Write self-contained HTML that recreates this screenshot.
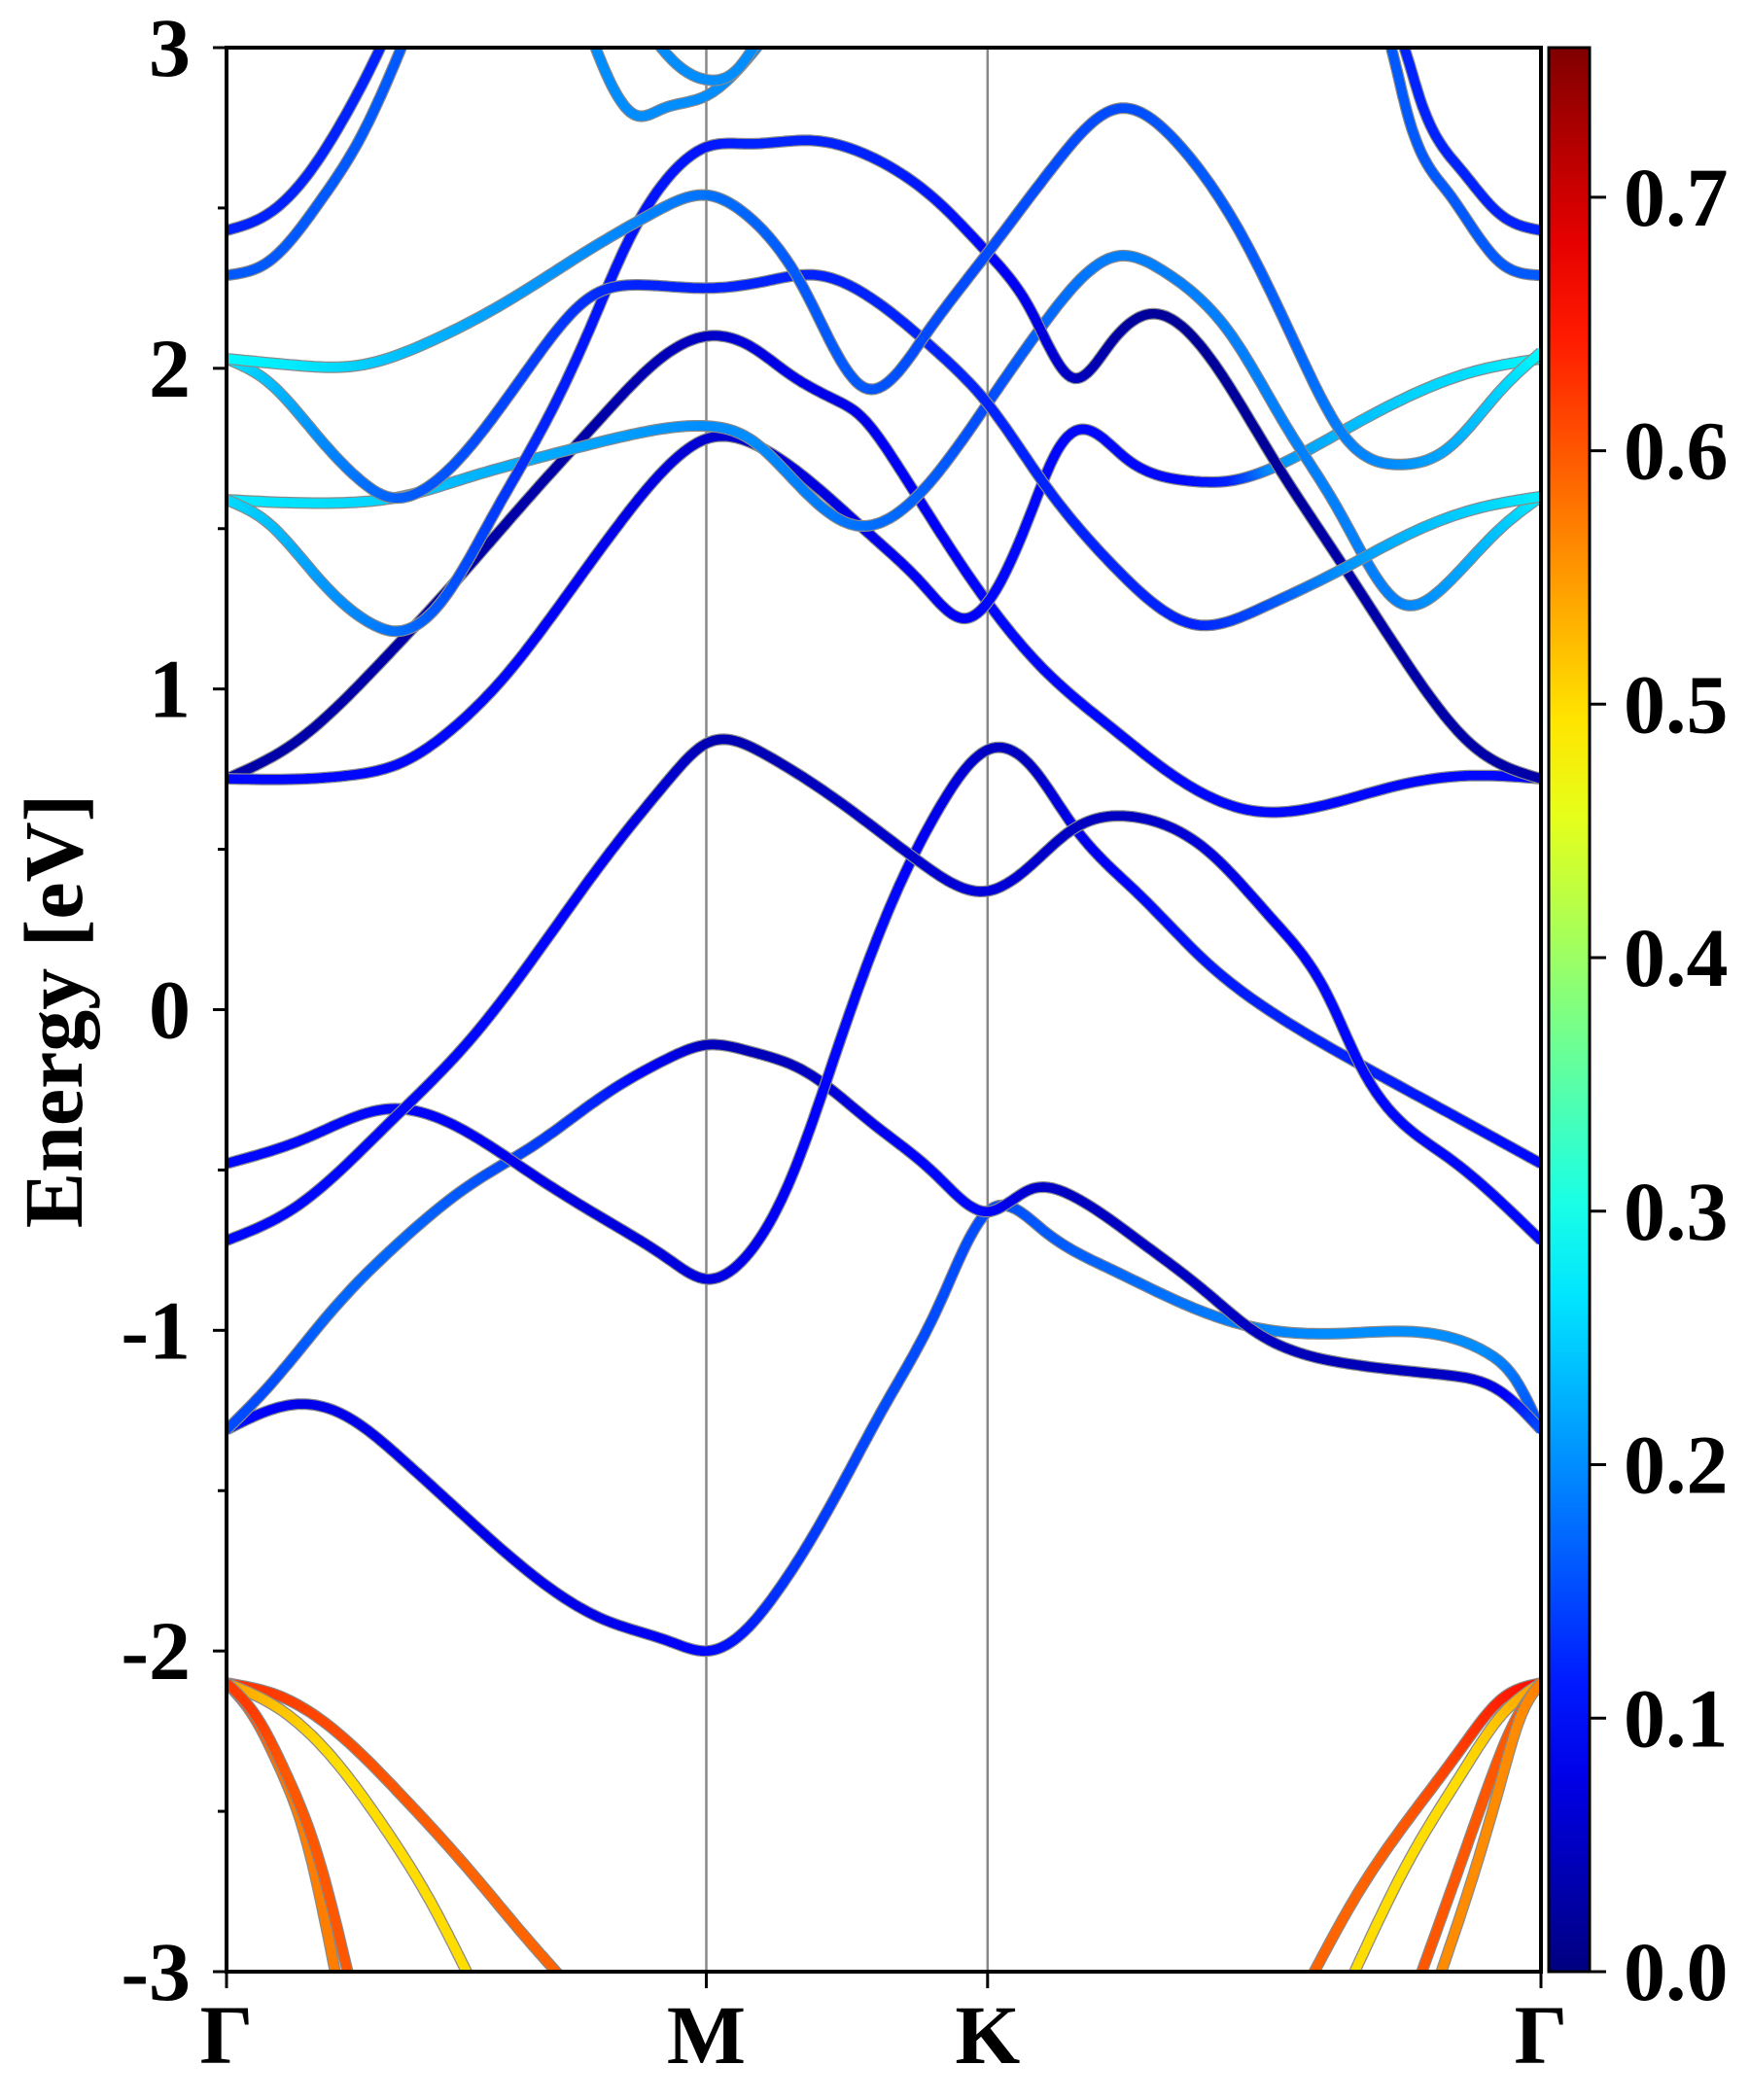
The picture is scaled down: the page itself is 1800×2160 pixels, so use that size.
<!DOCTYPE html>
<html><head><meta charset="utf-8">
<style>
html,body{margin:0;padding:0;background:#fff;}
svg{display:block;}
text{font-family:"Liberation Serif","DejaVu Serif",serif;font-weight:bold;fill:#000;}
</style></head>
<body>
<svg id="chart" width="1800" height="2160" viewBox="0 0 1800 2160" xmlns="http://www.w3.org/2000/svg">
<defs>
<clipPath id="plotclip"><rect x="233" y="49" width="1352" height="1979"/></clipPath>
<linearGradient id="jetgrad" x1="0" y1="1" x2="0" y2="0"></linearGradient>
</defs>
<g id="vlines"></g>
<g id="bands" clip-path="url(#plotclip)"></g>
<rect x="233" y="49" width="1352" height="1979" fill="none" stroke="#000" stroke-width="4"/>
<g id="yaxis"></g>
<g id="xaxis"></g>
<text x="0" y="0" font-size="86" text-anchor="middle" transform="translate(84,1040) rotate(-90)">Energy [eV]</text>
<rect x="1593" y="49" width="42" height="1979" fill="url(#jetgrad)" stroke="#000" stroke-width="3"/>
<g id="cbaxis"></g>
</svg>
<script>
const NS="http://www.w3.org/2000/svg";
// axis ranges
const eMin=-3, eMax=3, wMax=0.759;
const yTicks=[-3,-2,-1,0,1,2,3];
const yTickLabels=["-3","-2","-1","0","1","2","3"];
const kPointPos=[0,0.365,0.579,1];
const kPointLabels=["Γ","M","K","Γ"];
const cbTicks=[0,0.1,0.2,0.3,0.4,0.5,0.6,0.7];
const cbTickLabels=["0.0","0.1","0.2","0.3","0.4","0.5","0.6","0.7"];

// valence bands
const kV1=[0,.04,.08,.133,.184,.225,.255], eV1=[-2.10,-2.14,-2.24,-2.45,-2.68,-2.88,-3.02], wV1=[.63,.62,.61,.6,.59,.59,.59];
const kV2=[0,.04,.08,.12,.155,.185], eV2=[-2.10,-2.18,-2.33,-2.55,-2.78,-3.02], wV2=[.55,.52,.5,.5,.5,.5];
const kV3=[0,.02,.04,.06,.085], eV3=[-2.10,-2.2,-2.36,-2.58,-3.05], wV3=[.6,.6,.58,.57,.57];
const kV4=[0,.022,.045,.068,.095], eV4=[-2.1,-2.2,-2.38,-2.62,-3.05], wV4=[.62,.62,.6,.6,.6];
const kV5=[1,.97,.94,.90,.86,.825], eV5=[-2.10,-2.15,-2.3,-2.52,-2.76,-3.02], wV5=[.66,.64,.62,.6,.59,.59];
const kV6=[1,.97,.94,.90,.856], eV6=[-2.1,-2.2,-2.38,-2.65,-3.02], wV6=[.55,.52,.5,.5,.5];
const kV7=[1,.98,.96,.94,.905], eV7=[-2.1,-2.22,-2.42,-2.65,-3.05], wV7=[.6,.6,.6,.6,.6];
const kV8=[1,.985,.97,.95,.92], eV8=[-2.1,-2.2,-2.4,-2.68,-3.05], wV8=[.57,.56,.56,.56,.56];
// lower conduction bands
const kA=[0,.020,.056,.092,.133,.184,.235,.286,.337,.365,.388,.418,.459,.500,.541,.579,.622,.673,.724,.781,.847,.929,.959,.980,1];
const eA=[-1.31,-1.27,-1.23,-1.27,-1.40,-1.59,-1.77,-1.90,-1.97,-2.0,-1.96,-1.82,-1.55,-1.24,-0.93,-0.63,-0.69,-0.81,-0.91,-0.99,-1.01,-1.02,-1.07,-1.15,-1.31];
const wA=[.12,.1,.08,.08,.08,.08,.08,.08,.09,.1,.11,.13,.14,.15,.15,.15,.16,.17,.18,.19,.2,.2,.2,.18,.15];
const kB=[0,.031,.082,.133,.184,.235,.286,.337,.365,.398,.439,.490,.541,.579,.612,.643,.694,.745,.781,.847,.929,.969,1];
const eB=[-1.31,-1.18,-0.93,-0.72,-0.55,-0.42,-0.27,-0.15,-0.11,-0.13,-0.19,-0.35,-0.52,-0.63,-0.56,-0.58,-0.72,-0.88,-1.0,-1.10,-1.14,-1.19,-1.31];
const wB=[.15,.15,.17,.17,.16,.14,.12,.08,.05,.04,.05,.08,.1,.1,.06,.05,.05,.05,.05,.04,.05,.08,.15];
const kG=[0,.061,.122,.173,.235,.286,.337,.365,.393,.429,.469,.510,.541,.579,.612,.643,.694,.745,.796,.862,.929,1];
const eG=[-0.48,-0.40,-0.31,-0.36,-0.52,-0.65,-0.78,-0.84,-0.78,-0.53,-0.07,0.37,0.62,0.81,0.76,0.58,0.36,0.15,-0.01,-0.17,-0.32,-0.48];
const wG=[.1,.1,.1,.09,.08,.07,.07,.07,.08,.09,.1,.1,.08,.05,.05,.08,.1,.11,.12,.12,.11,.1];
const kD=[0,.051,.122,.184,.235,.286,.337,.365,.408,.469,.531,.579,.612,.643,.692,.745,.796,.837,.862,.929,1];
const eD=[-0.72,-0.62,-0.36,-0.1,0.17,0.46,0.72,0.83,0.80,0.64,0.45,0.37,0.45,0.56,0.60,0.50,0.28,0.05,-0.17,-0.46,-0.72];
const wD=[.1,.1,.1,.1,.1,.09,.06,.04,.04,.05,.06,.07,.06,.05,.05,.07,.09,.1,.1,.1,.1];
// upper conduction bands
const kP1=[0,.051,.112,.173,.235,.286,.327,.365,.398,.429,.464,.480,.510,.541,.579,.622,.673,.724,.781,.827,.892,.949,1];
const eP1=[.72,.83,1.06,1.33,1.62,1.85,2.02,2.10,2.07,1.98,1.90,1.86,1.70,1.50,1.27,1.06,.88,.72,.62,.63,.70,.73,.72];
const wP1=[.03,.03,.03,.03,.03,.03,.04,.05,.07,.08,.08,.08,.09,.09,.1,.1,.1,.1,.1,.1,.1,.1,.1];
const kP2=[0,.061,.092,.133,.173,.214,.255,.296,.337,.365,.408,.449,.490,.531,.561,.579,.612,.633,.651,.684,.730,.765,.796,.847,.898,.949,1];
const eP2=[.72,.72,.73,.77,.88,1.05,1.27,1.50,1.70,1.78,1.75,1.63,1.48,1.32,1.22,1.27,1.55,1.75,1.81,1.72,1.65,1.65,1.69,1.80,1.91,1.99,2.03];
const wP2=[.1,.1,.1,.1,.1,.1,.09,.08,.07,.06,.06,.07,.08,.09,.09,.1,.1,.1,.1,.1,.1,.12,.2,.23,.25,.26,.28];
const kP3=[0,.082,.133,.184,.255,.316,.365,.398,.439,.479,.520,.579,.622,.678,.714,.765,.806,.847,.892,.929,.969,1];
const eP3=[1.59,1.58,1.60,1.66,1.74,1.80,1.82,1.78,1.62,1.51,1.58,1.89,2.14,2.35,2.30,2.10,1.82,1.55,1.27,1.33,1.50,1.60];
const wP3=[.27,.26,.25,.23,.22,.21,.2,.2,.19,.18,.17,.15,.17,.19,.19,.19,.19,.19,.19,.21,.24,.27];
const kP4=[0,.031,.071,.112,.128,.163,.204,.245,.276,.306,.337,.365,.398,.447,.490,.541,.579,.612,.644,.673,.704,.745,.796,.847,.898,.949,1];
const eP4=[1.59,1.52,1.34,1.20,1.18,1.27,1.55,1.85,2.12,2.40,2.60,2.69,2.70,2.71,2.66,2.52,2.36,2.18,1.97,2.08,2.17,2.05,1.72,1.40,1.08,.82,.72];
const wP4=[.26,.24,.21,.19,.18,.16,.14,.12,.11,.11,.11,.11,.12,.12,.12,.11,.1,.08,.05,.03,.02,.02,.02,.03,.03,.03,.03];
const kP5=[0,.031,.071,.102,.122,.153,.194,.235,.276,.316,.365,.408,.450,.490,.541,.579,.622,.678,.738,.786,.847,.898,.949,1];
const eP5=[2.03,1.96,1.78,1.65,1.60,1.63,1.80,2.03,2.22,2.26,2.25,2.27,2.29,2.22,2.05,1.89,1.64,1.37,1.20,1.25,1.37,1.48,1.56,1.60];
const wP5=[.27,.24,.2,.18,.17,.16,.15,.14,.13,.12,.12,.12,.12,.12,.12,.12,.12,.12,.12,.15,.2,.23,.25,.27];
const kP6=[0,.051,.102,.153,.214,.276,.327,.365,.398,.439,.485,.531,.579,.633,.678,.724,.773,.816,.852,.892,.929,.969,1];
const eP6=[2.03,2.01,2.01,2.08,2.21,2.37,2.49,2.54,2.47,2.25,1.94,2.10,2.36,2.65,2.81,2.70,2.41,2.05,1.78,1.70,1.75,1.93,2.05];
const wP6=[.28,.27,.25,.23,.21,.2,.19,.18,.17,.16,.16,.15,.15,.15,.15,.16,.16,.17,.19,.2,.22,.25,.28];
// top bands
const kT1=[0,.031,.061,.092,.117,.128], eT1=[2.43,2.48,2.60,2.80,3.0,3.1], wT1=[.12,.12,.12,.12,.12,.12];
const kT2=[0,.031,.071,.102,.133,.143], eT2=[2.29,2.33,2.52,2.72,3.0,3.1], wT2=[.16,.16,.16,.16,.16,.16];
const kT3=[1,.969,.939,.908,.896,.886], eT3=[2.43,2.48,2.62,2.84,3.0,3.1], wT3=[.12,.12,.12,.12,.12,.12];
const kT4=[1,.969,.929,.898,.886,.878], eT4=[2.29,2.33,2.55,2.80,3.0,3.1], wT4=[.16,.16,.16,.16,.16,.16];
const kU1=[.276,.291,.311,.332,.365,.393,.413], eU1=[3.05,2.9,2.79,2.81,2.85,2.95,3.05], wU1=[.2,.2,.2,.2,.2,.2,.2];
const kU2=[.321,.342,.365,.388,.408], eU2=[3.05,2.95,2.90,2.93,3.05], wU2=[.2,.2,.2,.2,.2];

const bandList=[
 ["band-v1",kV1,eV1,wV1],["band-v2",kV2,eV2,wV2],["band-v3",kV3,eV3,wV3],["band-v4",kV4,eV4,wV4],
 ["band-v5",kV5,eV5,wV5],["band-v6",kV6,eV6,wV6],["band-v7",kV7,eV7,wV7],["band-v8",kV8,eV8,wV8],
 ["band-c1",kA,eA,wA],["band-c2",kB,eB,wB],["band-c3",kG,eG,wG],["band-c4",kD,eD,wD],
 ["band-c5",kP1,eP1,wP1],["band-c6",kP2,eP2,wP2],["band-c7",kP3,eP3,wP3],["band-c8",kP4,eP4,wP4],
 ["band-c9",kP5,eP5,wP5],["band-c10",kP6,eP6,wP6],["band-c11",kT1,eT1,wT1],["band-c12",kT2,eT2,wT2],
 ["band-c13",kT3,eT3,wT3],["band-c14",kT4,eT4,wT4],["band-c15",kU1,eU1,wU1],["band-c16",kU2,eU2,wU2]
];

const X0=233,X1=1585,Y0=49,Y1=2028;
function xS(k){return X0+k*(X1-X0);}
function yS(e){return Y0+(eMax-e)/(eMax-eMin)*(Y1-Y0);}
function cS(v){return Y1-v/wMax*(Y1-Y0);}
function clip(v){return Math.max(0,Math.min(1,v));}
function jet(t){
  t=clip(t);
  const r=clip(1.5-Math.abs(4*t-3)),g=clip(1.5-Math.abs(4*t-2)),b=clip(1.5-Math.abs(4*t-1));
  return "rgb("+Math.round(r*255)+","+Math.round(g*255)+","+Math.round(b*255)+")";
}
function mk(tag,attrs,parent){const el=document.createElementNS(NS,tag);for(const a in attrs)el.setAttribute(a,attrs[a]);parent.appendChild(el);return el;}

// natural cubic spline
function spline(xs,ys){
  const n=xs.length,h=[],al=[],l=[1],mu=[0],z=[0],c=new Array(n).fill(0),b=[],d=[];
  for(let i=0;i<n-1;i++)h.push(xs[i+1]-xs[i]);
  for(let i=1;i<n-1;i++)al[i]=3/h[i]*(ys[i+1]-ys[i])-3/h[i-1]*(ys[i]-ys[i-1]);
  for(let i=1;i<n-1;i++){l[i]=2*(xs[i+1]-xs[i-1])-h[i-1]*mu[i-1];mu[i]=h[i]/l[i];z[i]=(al[i]-h[i-1]*z[i-1])/l[i];}
  for(let j=n-2;j>=0;j--){c[j]=(j<n-1&&j>0)?z[j]-mu[j]*c[j+1]:(j===0?0:c[j]);if(j===0)c[0]=0;
    b[j]=(ys[j+1]-ys[j])/h[j]-h[j]*(c[j+1]+2*c[j])/3;d[j]=(c[j+1]-c[j])/(3*h[j]);}
  return function(x){let i=0;while(i<n-2&&x>xs[i+1])i++;const dx=x-xs[i];return ys[i]+b[i]*dx+c[i]*dx*dx+d[i]*dx*dx*dx;};
}

// colorbar gradient
const grad=document.getElementById("jetgrad");
for(let i=0;i<=20;i++){mk("stop",{offset:(i/20),"stop-color":jet(i/20)},grad);}

// high-symmetry lines
const vl=document.getElementById("vlines");
for(let i=1;i<kPointPos.length-1;i++){
  const l=mk("line",{x1:xS(kPointPos[i]),x2:xS(kPointPos[i]),y1:Y0,y2:Y1,stroke:"#888","stroke-width":2.5},vl);
  
  
}

// bands
const bg=document.getElementById("bands");
bandList.forEach(function(b){
  let idx=b[1].map((v,i)=>i);
  if(b[1][0]>b[1][b[1].length-1])idx.reverse();
  const ks=idx.map(i=>b[1][i]),es=idx.map(i=>b[2][i]),ws=idx.map(i=>b[3][i]);
  const fE=spline(ks,es);
  const pts=[];const steps=16;
  for(let i=0;i<ks.length-1;i++){
    for(let s=0;s<steps;s++){
      const t=s/steps,k=ks[i]+(ks[i+1]-ks[i])*t;
      pts.push([xS(k),yS(fE(k)),ws[i]+(ws[i+1]-ws[i])*t]);
    }
  }
  pts.push([xS(ks[ks.length-1]),yS(es[es.length-1]),ws[ws.length-1]]);
  const g=mk("g",{},bg);
  
  
  mk("polyline",{points:pts.map(p=>p[0].toFixed(1)+","+p[1].toFixed(1)).join(" "),fill:"none",stroke:"#8a8a8a","stroke-width":12,"stroke-linejoin":"round"},g);
  for(let i=0;i<pts.length-1;i++){
    mk("line",{x1:pts[i][0].toFixed(1),y1:pts[i][1].toFixed(1),x2:pts[i+1][0].toFixed(1),y2:pts[i+1][1].toFixed(1),stroke:jet((pts[i][2]+pts[i+1][2])/2/wMax),"stroke-width":9.5,"stroke-linecap":"round"},g);
  }
});

// y axis
const ya=document.getElementById("yaxis");
yTicks.forEach(function(v,i){
  const y=yS(v);
  const t=mk("line",{x1:X0-14,x2:X0,y1:y,y2:y,stroke:"#000","stroke-width":3},ya);
  
  
  const lb=mk("text",{x:196,y:y+29,"font-size":86,"text-anchor":"end"},ya);
  lb.textContent=yTickLabels[i];
  
  
  if(i<yTicks.length-1){
    const ym=yS(v+0.5);
    const m=mk("line",{x1:X0-9,x2:X0,y1:ym,y2:ym,stroke:"#000","stroke-width":3},ya);
    
    
  }
});
// x axis
const xa=document.getElementById("xaxis");
kPointPos.forEach(function(k,i){
  const x=xS(k);
  const t=mk("line",{x1:x,x2:x,y1:Y1,y2:Y1+17,stroke:"#000","stroke-width":3},xa);
  
  
  const lb=mk("text",{x:x,y:2122,"font-size":86,"text-anchor":"middle"},xa);
  lb.textContent=kPointLabels[i];
  
  
});
// colorbar axis
const ca=document.getElementById("cbaxis");
cbTicks.forEach(function(v,i){
  const y=cS(v);
  const t=mk("line",{x1:1635,x2:1652,y1:y,y2:y,stroke:"#000","stroke-width":3},ca);
  
  
  const lb=mk("text",{x:1670,y:y+29,"font-size":86,"text-anchor":"start"},ca);
  lb.textContent=cbTickLabels[i];
  
  
});
</script>
</body></html>
